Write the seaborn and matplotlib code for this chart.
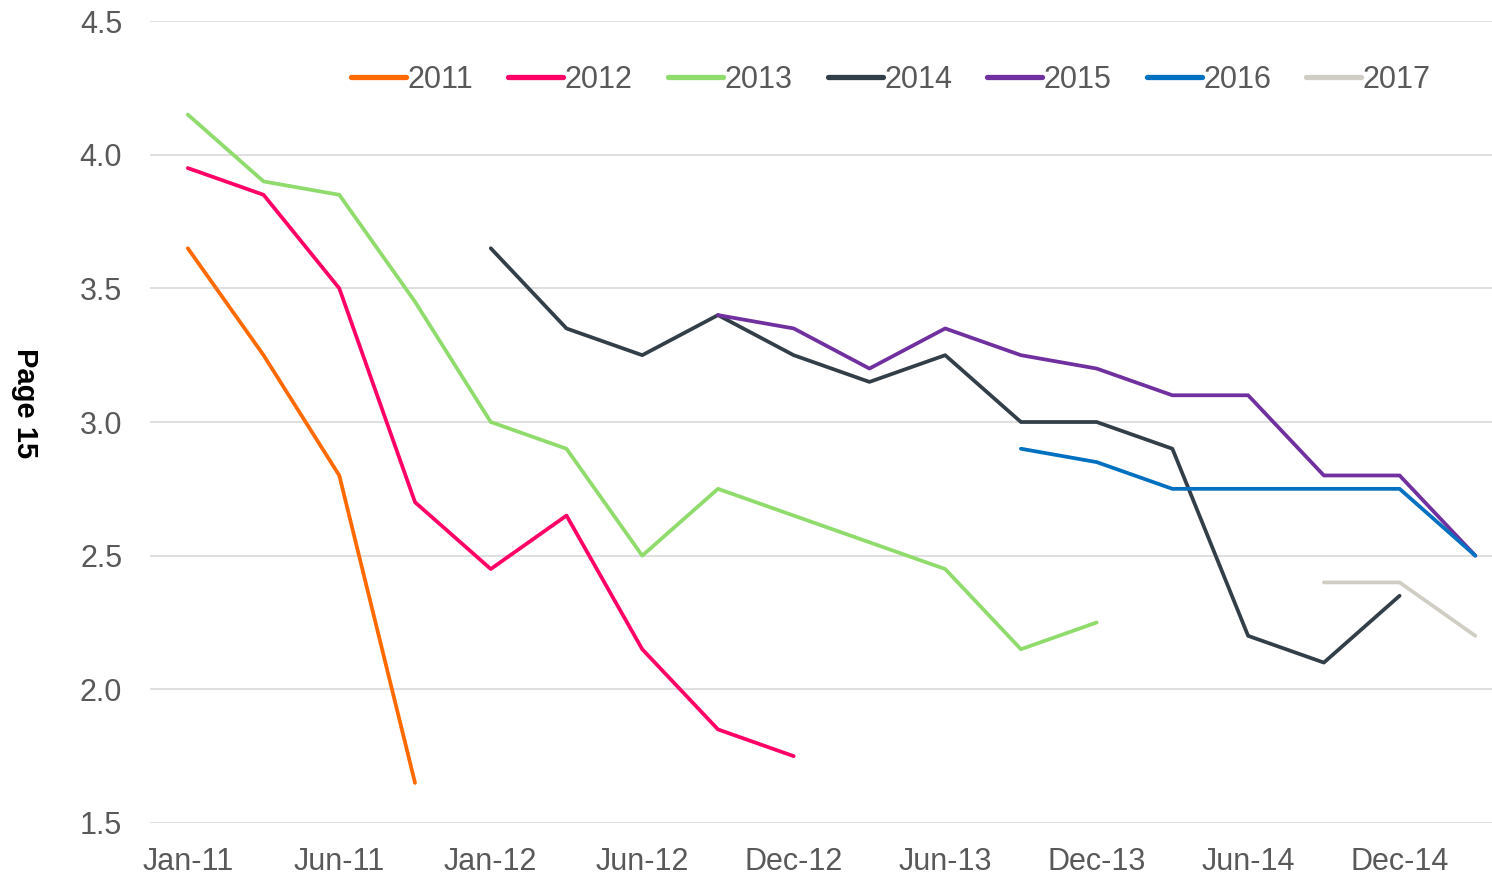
import numpy as np
import pandas as pd
import seaborn as sns
import matplotlib.pyplot as plt

periods = ["Jan-11", "Mar-11", "Jun-11", "Sep-11", "Jan-12", "Mar-12", "Jun-12", "Sep-12",
           "Dec-12", "Mar-13", "Jun-13", "Sep-13", "Dec-13", "Mar-14", "Jun-14", "Sep-14",
           "Dec-14", "Mar-15"]
nan = np.nan
s2011 = [3.65, 3.25, 2.8, 1.65] + [nan] * 14
s2012 = [3.95, 3.85, 3.5, 2.7, 2.45, 2.65, 2.15, 1.85, 1.75] + [nan] * 9
s2013 = [4.15, 3.9, 3.85, 3.45, 3.0, 2.9, 2.5, 2.75, 2.65, 2.55, 2.45, 2.15, 2.25] + [nan] * 5
s2014 = [nan] * 4 + [3.65, 3.35, 3.25, 3.4, 3.25, 3.15, 3.25, 3.0, 3.0, 2.9, 2.2, 2.1, 2.35, nan]
s2015 = [nan] * 7 + [3.4, 3.35, 3.2, 3.35, 3.25, 3.2, 3.1, 3.1, 2.8, 2.8, 2.5]
s2016 = [nan] * 11 + [2.9, 2.85, 2.75, 2.75, 2.75, 2.75, 2.5]
s2017 = [nan] * 15 + [2.4, 2.4, 2.2]

series = {"2011": s2011, "2012": s2012, "2013": s2013, "2014": s2014,
          "2015": s2015, "2016": s2016, "2017": s2017}
colors = ["#FF6A00", "#FF0066", "#8FDB6C", "#333F48", "#7030A0", "#0070C0", "#D0CEC4"]

rows = []
for name, vals in series.items():
    for i, v in enumerate(vals):
        if not np.isnan(v):
            rows.append({"idx": i, "value": v, "year": name})
df = pd.DataFrame(rows)

sns.set_style("white")
plt.rcParams['font.family'] = ['Liberation Sans', 'DejaVu Sans']
grey = "#595959"

fig = plt.figure(figsize=(14.92, 8.77), dpi=100)
ax = fig.add_axes([0.1005, 0.0616, 0.8995, 0.9144])

sns.lineplot(data=df, x="idx", y="value", hue="year", palette=colors,
             linewidth=2.7, ax=ax, sort=False)

ax.set_ylim(1.5, 4.5)
ax.set_xlim(-0.5, 17.22)
ax.set_yticks(np.arange(1.5, 4.51, 0.5))
ax.set_yticklabels([f"{v:.1f}" for v in np.arange(1.5, 4.51, 0.5)], fontsize=22, color=grey)
ax.set_xticks(range(0, 18, 2))
ax.set_xticklabels(periods[0::2], fontsize=22, color=grey)
ax.tick_params(axis="y", length=0, pad=20)
ax.tick_params(axis="x", length=0, pad=17)
ax.yaxis.grid(True, color="#D9D9D9", linewidth=1.2)
ax.set_axisbelow(True)
for sp in ax.spines.values():
    sp.set_visible(False)

ax.set_xlabel("")
ax.set_ylabel("")
fig.text(0.017, 0.54, "Page 15", rotation=-90, fontsize=21, fontweight="bold",
         ha="center", va="center", color="black")

leg = ax.legend(loc="upper right", bbox_to_anchor=(0.975, 0.98), ncol=7, frameon=False,
                fontsize=22, handlelength=1.8, handletextpad=0.05, columnspacing=1.15)
for t in leg.get_texts():
    t.set_color(grey)
for l in leg.get_lines():
    l.set_linewidth(3.8)

fig.savefig("out.png", dpi=100)
